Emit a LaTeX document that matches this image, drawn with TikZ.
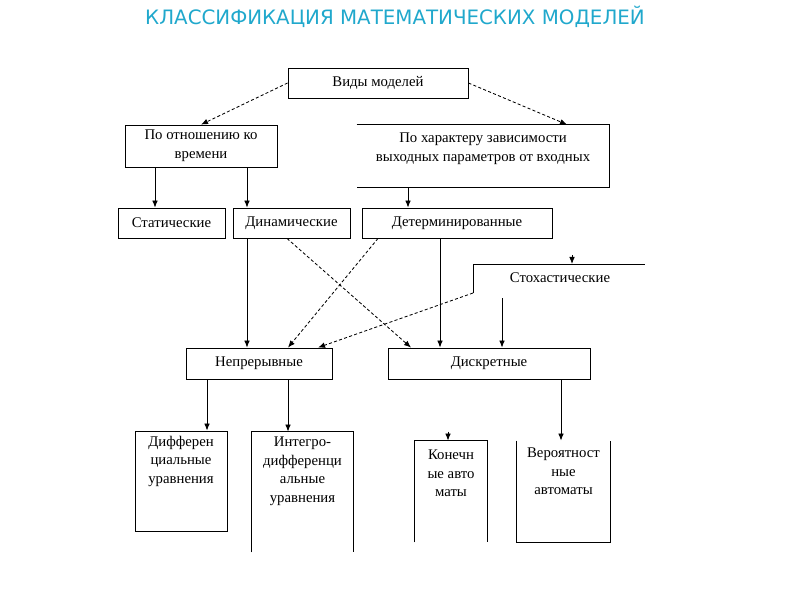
\documentclass[tikz,border=0pt]{standalone}
\usepackage{fontspec}
\setmainfont{Liberation Serif}
\newfontfamily\titlefont{DejaVu Sans}
\usepackage{xcolor}
\usepackage{tikz}
\usetikzlibrary{arrows.meta,positioning,calc}
\definecolor{titlecyan}{RGB}{32,168,204}
\tikzset{
  box/.style={draw, inner sep=1pt, align=center, font=\fontsize{10.5}{13.2}\selectfont},
  frame/.style={inner sep=0pt},
  txt/.style={inner sep=1pt, align=center, font=\fontsize{10.5}{13.2}\selectfont},
  arr/.style={-{Latex[length=5pt,width=4pt]}},
  darr/.style={arr, dash pattern=on 2.2pt off 1.6pt},
}

\begin{document}
\begin{tikzpicture}[x=0.025cm,y=-0.025cm,line width=0.6pt]
\useasboundingbox (0,0) rectangle (800,600);
% Title
\node[font=\titlefont\fontsize{14.1}{17}\selectfont, text=titlecyan] (title) at (395,17) {КЛАССИФИКАЦИЯ МАТЕМАТИЧЕСКИХ МОДЕЛЕЙ};
% Top level
\node[box, minimum width=4.5cm, minimum height=0.75cm] (vidy) at (378,83) {Виды моделей};
\node[box, minimum width=3.8cm, minimum height=1.05cm] (vremya) at (201,146) {По отношению ко\\времени};
\node[frame, minimum width=6.3cm, minimum height=1.55cm] (harakter) at (483,156) {};
\node[txt] (harakterT) at ($(harakter.north)+(0,24)$) {По характеру зависимости\\выходных параметров от входных};
\draw (harakter.north west) -- (harakter.north east) -- (harakter.south east) -- (harakter.south west);
% Second level
\node[box, minimum width=2.675cm, minimum height=0.75cm] (stat) at (171.5,223) {Статические};
\node[box, minimum width=2.925cm, minimum height=0.75cm] (dinam) at (291.5,223) {Динамические};
\node[box, minimum width=4.75cm, minimum height=0.75cm] (determ) at (457,223) {Детерминированные};
\node[txt] (stoh) at (560,278) {Стохастические};
\coordinate (stohA) at (473,264);
\coordinate (stohB) at (645,264);
\coordinate (stohC) at (473,293);
\coordinate (stohD) at (502,298);
\draw (stohC) -- (stohA) -- (stohB);
% Third level
\node[box, minimum width=3.65cm, minimum height=0.775cm] (nepr) at (259,363.5) {Непрерывные};
\node[box, minimum width=5.05cm, minimum height=0.775cm] (diskr) at (489,363.5) {Дискретные};
% Bottom level
\node[frame, draw, minimum width=2.3cm, minimum height=2.5cm] (diff) at (181,481) {};
\node[txt] (diffT) at ($(diff.north)+(0,30.5)$) {Дифферен\\циальные\\уравнения};
\node[frame, minimum width=2.525cm, minimum height=3cm] (integ) at (302.5,492) {};
\node[txt] (integT) at ($(integ.north)+(0,39.5)$) {Интегро-\\дифференци\\альные\\уравнения};
\draw (integ.south west) -- (integ.north west) -- (integ.north east) -- (integ.south east);
\node[frame, minimum width=1.8cm, minimum height=2.525cm] (konech) at (451,491.5) {};
\node[txt] (konechT) at ($(konech.north)+(0,33)$) {Конечн\\ые авто\\маты};
\draw (konech.south west) -- (konech.north west) -- (konech.north east) -- (konech.south east);
\node[frame, minimum width=2.325cm, minimum height=2.525cm] (veroyat) at (563.5,491.5) {};
\node[txt] (veroyatT) at ($(veroyat.north)+(0,31)$) {Вероятност\\ные\\автоматы};
\draw (veroyat.north west) -- (veroyat.south west) -- (veroyat.south east) -- (veroyat.north east);
% Arrows from the top
\draw[darr] (vidy.west) -- (vremya.north);
\draw[darr] (vidy.east) -- ($(harakter.north)+(84,0)$);
\draw[arr] ($(vremya.south -| stat.north)+(-16.5,0)$) -- ($(stat.north)+(-16.5,0)$);
\draw[arr] ($(vremya.south -| dinam.north)+(-44.5,0)$) -- ($(dinam.north)+(-44.5,0)$);
\draw[arr] ($(harakter.south -| determ.north)+(-49,0)$) -- ($(determ.north)+(-49,0)$);
% Middle arrows
\draw[arr] ($(dinam.south)+(-44.5,0)$) -- ($(nepr.north -| dinam.south)+(-44.5,0)$);
\draw[darr] ($(dinam.south)+(-4.5,0)$) -- ($(diskr.north)+(-78,0)$);
\draw[darr] ($(determ.south)+(-79,0)$) -- ($(nepr.north)+(29,0)$);
\draw[arr] ($(determ.south)+(-17,0)$) -- ($(diskr.north -| determ.south)+(-17,0)$);
\draw[darr] (stohC) -- ($(nepr.north)+(59,0)$);
\draw[arr] (stohD) -- (stohD |- diskr.north);
\draw[arr] ($(stohA)+(99,-9)$) -- ($(stohA)+(99,0)$);
% Bottom arrows
\draw[arr] ($(nepr.south)+(-52,0)$) -- ($(diff.north -| nepr.south)+(-52,0)$);
\draw[arr] ($(nepr.south)+(29,0)$) -- ($(integ.north -| nepr.south)+(29,0)$);
\draw[arr] ($(diskr.south)+(72,0)$) -- ($(veroyat.north -| diskr.south)+(72,0)$);
\draw[arr] ($(konech.north)+(-3,-9)$) -- ($(konech.north)+(-3,0)$);
\end{tikzpicture}
\end{document}
